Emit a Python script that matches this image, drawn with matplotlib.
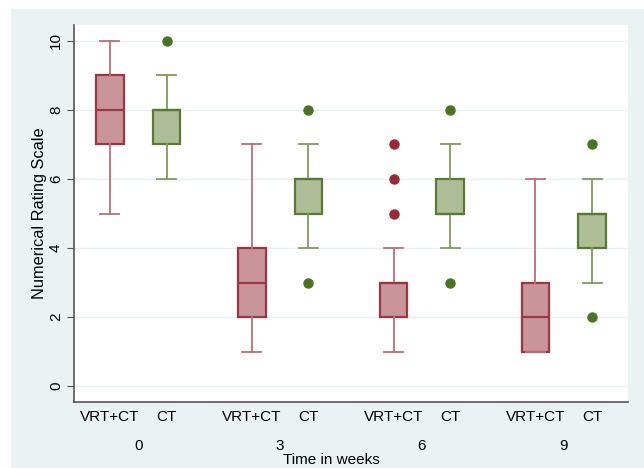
import matplotlib
matplotlib.use('Agg')
import matplotlib.pyplot as plt
from matplotlib.patches import Rectangle

weeks = ['0', '3', '6', '9']
groups = ['VRT+CT', 'CT']

# five-number summaries: low whisker, q1, median, q3, high whisker
vrt_lo = [5, 1, 1, 1]
vrt_q1 = [7, 2, 2, 1]
vrt_med = [8, 3, 3, 2]
vrt_q3 = [9, 4, 3, 3]
vrt_hi = [10, 7, 4, 6]
vrt_out = [[], [], [5, 6, 7], []]

ct_lo = [6, 4, 4, 3]
ct_q1 = [7, 5, 5, 4]
ct_med = [8, 6, 5, 5]
ct_q3 = [8, 6, 6, 5]
ct_hi = [9, 7, 7, 6]
ct_out = [[10], [8, 3], [8, 3], [7, 2]]

yticks = [0, 2, 4, 6, 8, 10]


def make_stats(lo, q1, med, q3, hi, out):
    return [dict(whislo=a, q1=b, med=c, q3=d, whishi=e, fliers=f)
            for a, b, c, d, e, f in zip(lo, q1, med, q3, hi, out)]


plt.rcParams['font.family'] = ['Liberation Sans', 'DejaVu Sans']

fig = plt.figure(figsize=(6.44, 4.68), dpi=100)
fig.patch.set_facecolor('white')
# stata-like light blue backdrop
bg = Rectangle((11 / 644, 0), 1, 1 - 9 / 468, transform=fig.transFigure,
               facecolor='#EAF2F3', edgecolor='none', zorder=-5)
fig.add_artist(bg)

ax = fig.add_axes([74 / 644, 1 - 402 / 468, (628 - 74) / 644, (402 - 25) / 468])
ax.set_facecolor('white')

centers = [i * 2.5 for i in range(len(weeks))]
pos_vrt = [c - 0.5 for c in centers]
pos_ct = [c + 0.5 for c in centers]

sets = [
    (make_stats(vrt_lo, vrt_q1, vrt_med, vrt_q3, vrt_hi, vrt_out), pos_vrt,
     '#C9959B', '#9C3742', '#BE6E77', '#972A35'),
    (make_stats(ct_lo, ct_q1, ct_med, ct_q3, ct_hi, ct_out), pos_ct,
     '#AEBD97', '#587A33', '#7F9B5C', '#4B7324'),
]
for stats, pos, fill, edge, whisk, dot in sets:
    ax.bxp(stats, positions=pos, widths=0.49, capwidths=0.33, patch_artist=True,
           boxprops=dict(facecolor=fill, edgecolor=edge, linewidth=1.6),
           medianprops=dict(color=edge, linewidth=1.6),
           whiskerprops=dict(color=whisk, linewidth=1.3),
           capprops=dict(color=whisk, linewidth=1.3),
           flierprops=dict(marker='o', markerfacecolor=dot, markeredgecolor=dot,
                           markersize=6.5, linestyle='none'),
           zorder=3)

ax.set_xlim(-1.13, 8.63)
ax.set_ylim(-0.46, 10.46)
ax.set_yticks(yticks)
ax.set_yticklabels([str(t) for t in yticks], rotation=90, va='center', fontsize=11)
ax.grid(axis='y', color='#E6EFF1', linewidth=1.0, zorder=0)
ax.set_axisbelow(True)

ax.set_xticks(pos_vrt + pos_ct)
ax.set_xticklabels([groups[0]] * 4 + [groups[1]] * 4, fontsize=11)
ax.tick_params(axis='x', length=0, pad=6)
ax.tick_params(axis='y', length=5, color='#555555', pad=3)

for c, w in zip(centers, weeks):
    ax.annotate(w, xy=(c, 0), xycoords=('data', 'axes fraction'),
                xytext=(0, -32), textcoords='offset points',
                ha='center', va='center', fontsize=11)

for s in ['top', 'right']:
    ax.spines[s].set_visible(False)
for s in ['left', 'bottom']:
    ax.spines[s].set_color('#555555')
    ax.spines[s].set_linewidth(1.2)

ax.set_ylabel('Numerical Rating Scale', fontsize=11.8, labelpad=1)
fig.text(331 / 644, 1 - 460 / 468, 'Time in weeks', ha='center', va='center', fontsize=11)

fig.savefig('out.png', dpi=100, facecolor=fig.get_facecolor())
